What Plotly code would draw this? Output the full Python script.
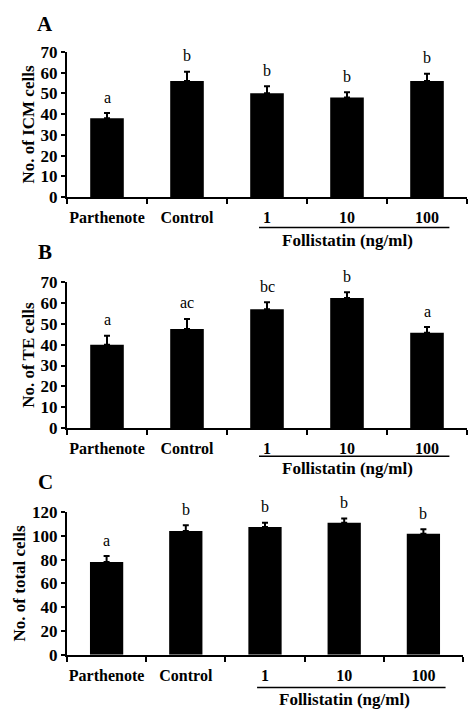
import plotly.graph_objects as go

# ---- data ----
categories = ["Parthenote", "Control", "1", "10", "100"]

icm_values = [38, 56, 50, 48, 56]
icm_errors = [2.5, 4.4, 3.4, 2.5, 3.4]
icm_letters = ["a", "b", "b", "b", "b"]

te_values = [40, 47.5, 57, 62.5, 45.7]
te_errors = [4.3, 4.9, 3.4, 2.7, 2.8]
te_letters = ["a", "ac", "bc", "b", "a"]

total_values = [78, 104, 107.5, 111, 101.7]
total_errors = [5, 4.9, 3.6, 3.6, 3.9]
total_letters = ["a", "b", "b", "b", "b"]

panel_labels = ["A", "B", "C"]
y_titles = ["No. of ICM cells", "No. of TE cells", "No. of total cells"]
group_label = "Follistatin (ng/ml)"

# ---- layout helpers ----
W, H = 468, 719
ML, MR = 67, 1
PW = W - ML - MR
SERIF = "Liberation Serif, Times New Roman, serif"


def py(px):
    return 1 - px / H


def pxx(px):
    return (px - ML) / PW


panels = [
    dict(vals=icm_values, errs=icm_errors, letters=icm_letters, rng=[0, 70], dtick=10,
         dom=[py(193.3), py(44)], xdom=[0, 1], lab_y=15, line_y=224.5, text_y=237.5),
    dict(vals=te_values, errs=te_errors, letters=te_letters, rng=[0, 70], dtick=10,
         dom=[py(430.3), py(280.7)], xdom=[0, 1], lab_y=250, line_y=459.5, text_y=472),
    dict(vals=total_values, errs=total_errors, letters=total_letters, rng=[0, 120], dtick=20,
         dom=[py(663.3), py(516.7)], xdom=[0, 0.99], lab_y=486, line_y=697, text_y=709.5),
]

fig = go.Figure()
annotations = []
shapes = []
layout = {}

for i, p in enumerate(panels):
    n = "" if i == 0 else str(i + 1)
    xa, ya = "x" + n, "y" + n
    fig.add_trace(go.Bar(
        x=categories, y=p["vals"], xaxis=xa, yaxis=ya,
        marker=dict(color="black", line=dict(width=0)),
        width=0.42,
        error_y=dict(type="data", array=p["errs"], arrayminus=[0] * len(p["errs"]),
                     symmetric=False, color="black", thickness=2, width=3),
        showlegend=False,
    ))
    layout["xaxis" + n] = dict(
        domain=p["xdom"], anchor=ya, type="category", range=[-0.5, 4.5],
        showline=True, linecolor="black", linewidth=2, tickangle=0,
        ticks="outside", tickson="boundaries", ticklen=5, tickwidth=2, tickcolor="black",
        tickfont=dict(family=SERIF, size=16, color="black", weight="bold"),
        showgrid=False, zeroline=False, fixedrange=True, ticklabelstandoff=5,
    )
    layout["yaxis" + n] = dict(
        domain=p["dom"], anchor=xa, range=p["rng"], dtick=p["dtick"],
        showline=True, linecolor="black", linewidth=2,
        ticks="outside", ticklen=4, tickwidth=2, tickcolor="black",
        tickfont=dict(family=SERIF, size=17, color="black", weight="bold"),
        showgrid=False, zeroline=False, ticklabelstandoff=0,
        title=dict(text=y_titles[i], font=dict(family=SERIF, size=17, color="black", weight="bold"),
                   standoff=2),
    )
    # significance letters (x as category index)
    for k, (v, e, t) in enumerate(zip(p["vals"], p["errs"], p["letters"])):
        annotations.append(dict(x=k, y=v + e, xref=xa, yref=ya, text=t, showarrow=False,
                                yanchor="middle", yshift=16,
                                font=dict(family=SERIF, size=16, color="black")))
    # panel label
    annotations.append(dict(x=pxx(45), y=py(p["lab_y"]), xref="paper", yref="paper",
                            text=panel_labels[i], showarrow=False, xanchor="center", yanchor="middle",
                            font=dict(family=SERIF, size=21, color="black", weight="bold")))
    # follistatin group line and label
    shapes.append(dict(type="line", xref=xa, yref="paper", x0=1.9, x1=4.28,
                       y0=py(p["line_y"]), y1=py(p["line_y"]),
                       line=dict(color="black", width=1.5)))
    annotations.append(dict(x=3, y=py(p["text_y"]), xref=xa, yref="paper", text=group_label,
                            showarrow=False, xanchor="center", yanchor="middle",
                            font=dict(family=SERIF, size=17, color="black", weight="bold")))

fig.update_layout(
    width=W, height=H,
    margin=dict(l=ML, r=MR, t=0, b=0),
    paper_bgcolor="white", plot_bgcolor="white",
    annotations=annotations, shapes=shapes,
    bargap=0.58,
    **layout,
)

fig.write_html("out.html", config={"displayModeBar": False},
               post_script="document.body.style.margin='0';document.body.style.padding='0';")
